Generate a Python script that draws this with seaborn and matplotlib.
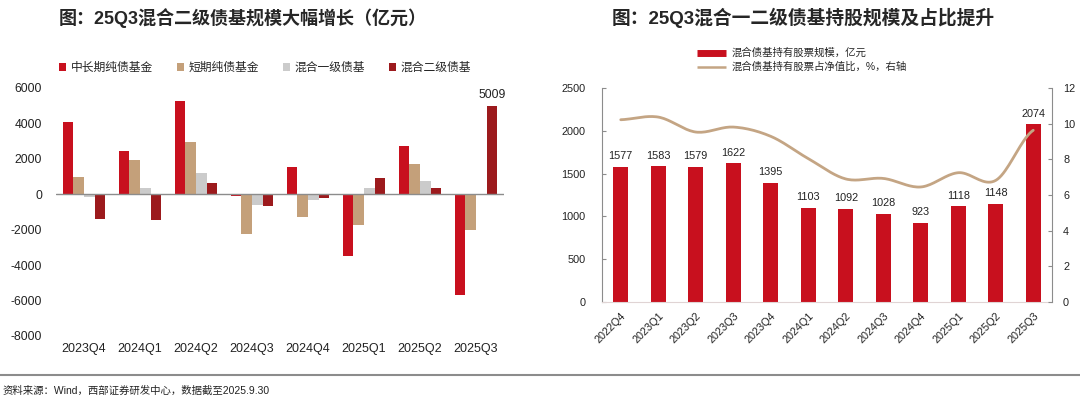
import numpy as np
import pandas as pd
import matplotlib
matplotlib.use("Agg")
import matplotlib.pyplot as plt
from matplotlib.lines import Line2D
import seaborn as sns

# left chart: quarterly change in fund size (亿元)
quarters_l = ["2023Q4", "2024Q1", "2024Q2", "2024Q3", "2024Q4", "2025Q1", "2025Q2", "2025Q3"]
series_names = ["中长期纯债基金", "短期纯债基金", "混合一级债基", "混合二级债基"]
long_pure = [4100, 2470, 5290, -110, 1525, -3460, 2710, -5670]
short_pure = [960, 1940, 2960, -2240, -1300, -1750, 1730, -2000]
mix_first = [-170, 340, 1205, -600, -300, 380, 750, -30]
mix_second = [-1375, -1470, 620, -640, -225, 940, 340, 5009]

# right chart: stock holdings of mixed bond funds
quarters_r = ["2022Q4", "2023Q1", "2023Q2", "2023Q3", "2023Q4", "2024Q1",
              "2024Q2", "2024Q3", "2024Q4", "2025Q1", "2025Q2", "2025Q3"]
stock_size = [1577, 1583, 1579, 1622, 1395, 1103, 1092, 1028, 923, 1118, 1148, 2074]
stock_ratio = [10.22, 10.37, 9.53, 9.81, 9.29, 8.04, 6.90, 6.93, 6.45, 7.25, 6.82, 9.63]

RED = "#C8101E"
TAN = "#C4A07A"
GREY = "#CBCBCB"
DARK = "#9C1A1D"
LINE = "#C4A584"

sns.set_style("white")
plt.rcParams["font.family"] = ["Liberation Sans", "Noto Sans CJK SC", "DejaVu Sans"]
plt.rcParams["axes.unicode_minus"] = False

fig = plt.figure(figsize=(10.8, 3.99), dpi=100)
W, H = 1080, 399


def box(x0, y0, x1, y1):
    return [x0 / W, 1 - y1 / H, (x1 - x0) / W, (y1 - y0) / H]


# %% left chart
ax = fig.add_axes(box(56, 88, 504, 336))
df = pd.DataFrame({
    "quarter": quarters_l * 4,
    "value": long_pure + short_pure + mix_first + mix_second,
    "series": sum([[s] * len(quarters_l) for s in series_names], []),
})
sns.barplot(data=df, x="quarter", y="value", hue="series", hue_order=series_names,
            palette=[RED, TAN, GREY, DARK], width=0.76, gap=0, saturation=1,
            linewidth=0, edgecolor="none", ax=ax)
ax.set_ylim(-8000, 6000)
ax.set_xlim(-0.5, 7.5)
ax.set_yticks(range(-8000, 6001, 2000))
ax.axhline(0, color="#8C8C8C", lw=1)
for s in ax.spines.values():
    s.set_visible(False)
ax.set_xlabel("")
ax.set_ylabel("")
ax.tick_params(axis="y", length=0, pad=10, labelsize=8.7, labelcolor="#222222")
ax.tick_params(axis="x", length=0, pad=5, labelsize=9, labelcolor="#222222")
last = ax.containers[3]
ax.bar_label(last, labels=[""] * 7 + [f"{mix_second[-1]}"], padding=3,
             fontsize=8.7, color="#222222")
handles, labels = ax.get_legend_handles_labels()
ax.legend_.remove()
fig.legend(handles, labels, loc="center", bbox_to_anchor=(265 / W, 1 - 68 / H),
           ncol=4, frameon=False, handlelength=0.6, handleheight=0.6,
           handletextpad=0.4, columnspacing=2.0, fontsize=8.5)
fig.text(243 / W, 1 - 18 / H, "图：25Q3混合二级债基规模大幅增长（亿元）",
         ha="center", va="center", fontsize=13, fontweight="bold",
         family=["Liberation Sans", "Noto Sans CJK SC"])

# %% right chart
axr = fig.add_axes(box(602, 88, 1052, 302))
sns.barplot(x=quarters_r, y=stock_size, color=RED, width=0.4, saturation=1,
            linewidth=0, edgecolor="none", ax=axr)
axr.set_ylim(0, 2500)
axr.set_xlim(-0.5, 11.5)
axr.bar_label(axr.containers[0], labels=[str(v) for v in stock_size], padding=4,
              fontsize=7.8, color="#222222")
for k in ["top", "right"]:
    axr.spines[k].set_visible(False)
axr.spines["left"].set_color("#8C8C8C")
axr.spines["bottom"].set_color("#E0D4D4")
axr.tick_params(axis="y", direction="in", length=3, color="#8C8C8C", pad=12,
                labelsize=7.8, labelcolor="#222222", left=True)
axr.tick_params(axis="x", length=0, pad=6, labelsize=7.8, labelcolor="#222222")
plt.setp(axr.get_xticklabels(), rotation=45, ha="right", va="top",
         rotation_mode="anchor")

ax2 = axr.twinx()
ax2.set_ylim(0, 12)
ax2.set_yticks(range(0, 13, 2))
for k in ["top", "left", "bottom"]:
    ax2.spines[k].set_visible(False)
ax2.spines["right"].set_color("#8C8C8C")
ax2.tick_params(axis="y", direction="in", length=3, color="#8C8C8C", pad=8,
                labelsize=7.8, labelcolor="#222222", right=True)

# smoothed line through the points (Catmull-Rom, like Excel's smooth line)
px = np.arange(len(stock_ratio), dtype=float)
py = np.array(stock_ratio)
xs, ys = [], []
for i in range(len(px) - 1):
    p0 = py[max(i - 1, 0)]
    p1, p2 = py[i], py[i + 1]
    p3 = py[min(i + 2, len(py) - 1)]
    t = np.linspace(0, 1, 20, endpoint=False)
    yy = 0.5 * ((2 * p1) + (-p0 + p2) * t + (2 * p0 - 5 * p1 + 4 * p2 - p3) * t ** 2
                + (-p0 + 3 * p1 - 3 * p2 + p3) * t ** 3)
    xs.extend(px[i] + t)
    ys.extend(yy)
xs.append(px[-1])
ys.append(py[-1])
ax2.plot(xs, ys, color=LINE, lw=2)

leg_handles = [Line2D([0], [0], color=RED, lw=5, solid_capstyle="butt"),
               Line2D([0], [0], color=LINE, lw=1.8, solid_capstyle="butt")]
leg_labels = ["混合债基持有股票规模，亿元", "混合债基持有股票占净值比，%，右轴"]
fig.legend(leg_handles, leg_labels, loc="center", bbox_to_anchor=(802 / W, 1 - 60 / H),
           frameon=False, fontsize=7.5, handlelength=2.8, handletextpad=0.6,
           labelspacing=0.35)
fig.text(803 / W, 1 - 18 / H, "图：25Q3混合一二级债基持股规模及占比提升",
         ha="center", va="center", fontsize=13.5, fontweight="bold",
         family=["Liberation Sans", "Noto Sans CJK SC"])

# %% footer
fig.add_artist(Line2D([0, 1], [1 - 375 / H] * 2, color="#8C8C8C", lw=1.5,
                      transform=fig.transFigure))
fig.text(3 / W, 1 - 391 / H, "资料来源：Wind，西部证券研发中心，数据截至2025.9.30",
         ha="left", va="center", fontsize=7.5, color="#222222")

fig.savefig("out.png", dpi=100)
